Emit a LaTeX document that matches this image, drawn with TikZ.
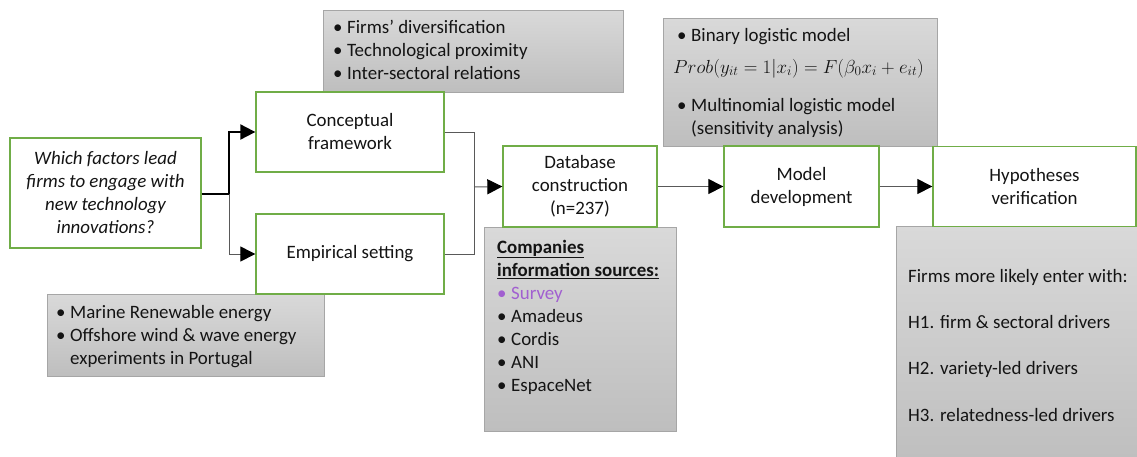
\documentclass[tikz,border=0pt]{standalone}
\usepackage{fix-cm}
\usepackage{fontspec}
\setmainfont{Carlito}
\usetikzlibrary{arrows.meta}
\definecolor{grn}{HTML}{70AD47}
\definecolor{gtop}{HTML}{D9D9D9}
\definecolor{gbot}{HTML}{BEBEBE}
\definecolor{gedge}{HTML}{A6A6A6}
\definecolor{txt}{HTML}{141414}
\definecolor{lin}{HTML}{595959}
\definecolor{purp}{HTML}{A15FD0}
\newcommand\fs{\fontsize{18.9}{23}\selectfont}
\newcommand\bul{\makebox[14pt][l]{\textbullet}}
\newcommand\ind{\hspace*{14pt}}
\newcommand\st{\rule{0pt}{15pt}}
\begin{document}
\begin{tikzpicture}[x=1pt,y=-1pt,
  box/.style={draw=grn,line width=1.3pt,fill=white,align=center,font=\fs,text=txt,inner sep=2pt},
  gbox/.style={draw=gedge,line width=0.8pt,top color=gtop,bottom color=gbot,inner sep=0pt,anchor=north west},
  lst/.style={anchor=north west,inner sep=0pt,align=left,font=\fs,text=txt},
  conn/.style={draw=lin,line width=1pt},
  arr/.style={conn,-{Triangle[length=15pt,width=15pt,color=black]}}]
\useasboundingbox (0,0) rectangle (1137,456);
\begin{scope}
\clip (0,0) rectangle (1137,456);
% grey note boxes
\node[gbox,minimum width=300pt,minimum height=82pt] (g1) at (323,10) {};
\node[gbox,minimum width=274pt,minimum height=128pt] (g2) at (663,18) {};
\node[gbox,minimum width=192pt,minimum height=204pt] (g3) at (484,227) {};
\node[gbox,minimum width=250pt,minimum height=240pt] (g4) at (896,226) {};
\node[gbox,minimum width=277pt,minimum height=82pt] (g5) at (47,294) {};
% texts of grey boxes
\node[lst] (t1) at (333,18) {\st\bul Firms’ diversification\\\bul Technological proximity\\\bul Inter-sectoral relations};
\node[lst] (t2a) at (677,26) {\st\bul Binary logistic model};
\node[lst,anchor=base west] (t2b) at (673,73) {$Prob(y_{it}=1|x_i)=F(\beta_0x_i+e_{it})$};
\node[lst] (t2c) at (677,96) {\st\bul Multinomial logistic model\\\ind(sensitivity analysis)};
\node[lst] (t3) at (497,238) {\st\underline{\textbf{Companies}}\\\underline{\textbf{information sources:}}\\{\color{purp}\bul Survey}\\\bul Amadeus\\\bul Cordis\\\bul ANI\\\bul EspaceNet};
\node[lst] (t4) at (908,267) {\st Firms more likely enter with:\\[23.3pt]H1. firm \& sectoral drivers\\[23.3pt]H2. variety-led drivers\\[23.3pt]H3. relatedness-led drivers};
\node[lst] (t5) at (56,303) {\st\bul Marine Renewable energy\\\bul Offshore wind \& wave energy\\\ind experiments in Portugal};
\end{scope}
% process boxes
\node[box,minimum width=191pt,minimum height=110pt,font=\fs\itshape] (q) at (105.5,193) {Which factors lead\\firms to engage with\\new technology\\innovations?};
\node[box,minimum width=188pt,minimum height=80pt] (cf) at (350,132) {Conceptual\\framework};
\node[box,minimum width=188pt,minimum height=80pt] (es) at (350,254) {Empirical setting};
\node[box,minimum width=154pt,minimum height=81pt] (db) at (580,186.5) {Database\\construction\\(n=237)};
\node[box,minimum width=155pt,minimum height=81pt] (md) at (801.5,186.5) {Model\\development};
\node[box,minimum width=203pt,minimum height=80pt] (hv) at (1034.5,186.5) {Hypotheses\\verification};
% connectors
\coordinate (sp) at (229,194);
\coordinate (jn) at (474,187);
\draw[line width=2pt,draw=black,-{Triangle[length=15pt,width=15pt,color=black]}] (q.east |- sp) -- (sp) |- (cf.west);
\draw[arr] (sp) |- (es.west);
\draw[conn] (cf.east) -| (jn);
\draw[conn] (es.east) -| (jn);
\draw[arr] (jn) -- (db.west);
\draw[arr] (db.east) -- (md.west);
\draw[arr] (md.east) -- (hv.west);
\end{tikzpicture}
\end{document}
